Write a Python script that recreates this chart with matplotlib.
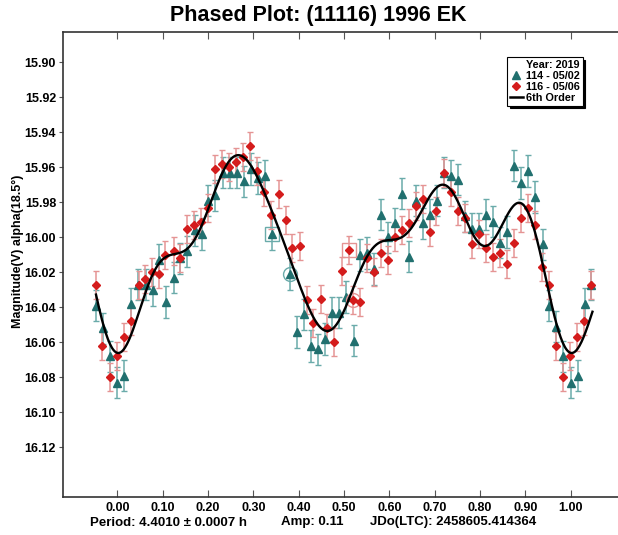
import numpy as np
import matplotlib
matplotlib.use('Agg')
import matplotlib.pyplot as plt
from matplotlib.lines import Line2D

plt.rcParams['font.family'] = ['Liberation Sans', 'DejaVu Sans']
plt.rcParams['font.weight'] = 'bold'

# session 114 - 05/02 (teal triangles)
phase_114 = [-0.047, -0.032, -0.015, 0.000, 0.015, 0.030, 0.046, 0.063, 0.078, 0.092,
             0.107, 0.124, 0.139, 0.154, 0.171, 0.186, 0.201, 0.216, 0.233, 0.248,
             0.263, 0.279, 0.294, 0.310, 0.326, 0.341, 0.380, 0.396, 0.411, 0.427,
             0.442, 0.458, 0.473, 0.488, 0.504, 0.521, 0.535, 0.551, 0.566, 0.582,
             0.597, 0.613, 0.628, 0.644, 0.659, 0.674, 0.690, 0.706, 0.720, 0.735,
             0.751, 0.767, 0.782, 0.798, 0.813, 0.829, 0.845, 0.860, 0.876, 0.891,
             0.906, 0.922, 0.938, 0.953, 0.968, 0.984, 1.000, 1.015, 1.031, 1.045]
mag_114 = [16.039, 16.052, 16.068, 16.083, 16.079, 16.038, 16.027, 16.027, 16.030, 16.013,
           16.037, 16.023, 16.012, 16.008, 15.996, 15.998, 15.979, 15.976, 15.963, 15.963,
           15.963, 15.968, 15.961, 15.966, 15.965, 15.998, 16.021, 16.054, 16.044, 16.062,
           16.064, 16.058, 16.043, 16.043, 16.034, 16.059, 16.010, 16.009, 16.018, 15.987,
           16.000, 15.992, 15.975, 16.011, 15.979, 15.992, 15.987, 15.979, 15.963, 15.965,
           15.967, 15.988, 15.995, 15.995, 15.987, 15.991, 16.003, 15.997, 15.959, 15.969,
           15.962, 15.977, 16.004, 16.039, 16.051, 16.068, 16.083, 16.079, 16.038, 16.027]
err_114 = 0.009

# session 116 - 05/06 (red diamonds)
phase_116 = [-0.047, -0.033, -0.016, 0.000, 0.014, 0.030, 0.047, 0.061, 0.077, 0.092,
             0.106, 0.124, 0.139, 0.153, 0.169, 0.185, 0.200, 0.216, 0.232, 0.247,
             0.262, 0.278, 0.293, 0.309, 0.324, 0.340, 0.356, 0.371, 0.386, 0.402,
             0.418, 0.432, 0.449, 0.463, 0.479, 0.495, 0.510, 0.520, 0.535, 0.551,
             0.566, 0.582, 0.596, 0.612, 0.627, 0.643, 0.658, 0.674, 0.689, 0.704,
             0.721, 0.736, 0.751, 0.766, 0.782, 0.798, 0.813, 0.829, 0.844, 0.860,
             0.875, 0.890, 0.906, 0.921, 0.937, 0.952, 0.968, 0.983, 0.998, 1.014,
             1.029, 1.045]
mag_116 = [16.027, 16.062, 16.080, 16.068, 16.057, 16.048, 16.027, 16.024, 16.020, 16.021,
           16.010, 16.008, 16.012, 15.995, 15.993, 15.991, 15.983, 15.961, 15.958, 15.960,
           15.957, 15.954, 15.948, 15.962, 15.974, 15.987, 15.975, 15.990, 16.006, 16.005,
           16.036, 16.049, 16.035, 16.052, 16.060, 16.019, 16.007, 16.036, 16.037, 16.012,
           16.020, 16.009, 16.013, 16.000, 15.996, 15.992, 15.982, 15.978, 15.997, 15.985,
           15.963, 15.974, 15.985, 15.989, 16.004, 15.998, 16.006, 16.011, 16.009, 16.015,
           16.003, 15.989, 15.983, 15.993, 16.017, 16.027, 16.062, 16.080, 16.068, 16.057,
           16.048, 16.027]
err_116 = 0.008

# flagged points (boxed / circled in the original)
boxed_114 = [0.341]
circled_114 = [0.380]
boxed_116 = [0.510]
circled_116 = [0.520]

fit_order = 6

teal = '#21706f'
teal_err = '#6aabaa'
red = '#d41c1c'
red_err = '#e59494'

# 6th order Fourier fit on the unique phases [0, 1)
p_all = np.array(phase_114 + phase_116)
m_all = np.array(mag_114 + mag_116)
keep = (p_all >= 0) & (p_all < 1)
p_fit, m_fit = p_all[keep], m_all[keep]


def design(p):
    cols = [np.ones_like(p)]
    for k in range(1, fit_order + 1):
        cols.append(np.cos(2 * np.pi * k * p))
        cols.append(np.sin(2 * np.pi * k * p))
    return np.column_stack(cols)


coef, *_ = np.linalg.lstsq(design(p_fit), m_fit, rcond=None)
p_curve = np.linspace(-0.047, 1.048, 500)
m_curve = design(p_curve) @ coef

fig = plt.figure(figsize=(6.18, 5.35), dpi=100)
ax = fig.add_axes([63 / 618, 1 - 496.7 / 535, 1 - 63 / 618, (496.7 - 32.3) / 535])

ax.errorbar(phase_114, mag_114, yerr=err_114, fmt='none', ecolor=teal_err,
            elinewidth=1.1, capsize=2.5, capthick=1, zorder=2)
ax.errorbar(phase_116, mag_116, yerr=err_116, fmt='none', ecolor=red_err,
            elinewidth=1.1, capsize=2.5, capthick=1, zorder=2)
ax.plot(phase_114, mag_114, '^', color=teal, ms=6, mec=teal, zorder=3)
ax.plot(phase_116, mag_116, 'D', color=red, ms=4, mec=red, zorder=4)

for ph in boxed_114:
    ax.plot(ph, mag_114[phase_114.index(ph)], 's', ms=10, mfc='none', mec=teal_err, mew=1, zorder=3)
for ph in circled_114:
    ax.plot(ph, mag_114[phase_114.index(ph)], 'o', ms=10, mfc='none', mec=teal_err, mew=1, zorder=3)
for ph in boxed_116:
    ax.plot(ph, mag_116[phase_116.index(ph)], 's', ms=10, mfc='none', mec=red_err, mew=1, zorder=3)
for ph in circled_116:
    ax.plot(ph, mag_116[phase_116.index(ph)], 'o', ms=10, mfc='none', mec=red_err, mew=1, zorder=3)

ax.plot(p_curve, m_curve, color='black', lw=1.7, zorder=5)

x0 = -(117.3 - 63) / 453.4
x1 = (618 - 117.3) / 453.4
ax.set_xlim(x0, x1)
ax.set_ylim(15.90 + (496.7 - 62.3) / 1750, 15.90 - (62.3 - 32.3) / 1750)

xt = np.round(np.arange(0, 1.001, 0.1), 2)
ax.set_xticks(xt)
ax.set_xticklabels([f'{v:.2f}' for v in xt])
yt = np.round(np.arange(15.90, 16.121, 0.02), 2)
ax.set_yticks(yt)
ax.set_yticklabels([f'{v:.2f}' for v in yt])

ax.tick_params(axis='x', direction='in', length=5, top=True, pad=4, labelsize=9, color='#555555')
ax.tick_params(axis='y', direction='out', length=3, pad=2, labelsize=9, color='#555555')
ax.spines['right'].set_visible(False)
for s in ['left', 'top', 'bottom']:
    ax.spines[s].set_color('#333333')
    ax.spines[s].set_linewidth(1.2)

fig.text(318.5 / 618, 1 - 15 / 535, 'Phased Plot: (11116) 1996 EK', ha='center', va='center',
         fontsize=15.5, fontweight='heavy')
fig.text(18 / 618, 1 - 251.5 / 535, 'Magnitude(V) alpha(18.5°)', rotation=90,
         ha='center', va='center', fontsize=9)
fy = 1 - 522.5 / 535
fig.text(90 / 618, fy, 'Period: 4.4010 ± 0.0007 h', ha='left', va='center', fontsize=9.5)
fig.text(280.6 / 618, fy, 'Amp: 0.11', ha='left', va='center', fontsize=9.5)
fig.text(369.7 / 618, fy, 'JDo(LTC): 2458605.414364', ha='left', va='center', fontsize=9.5)

handles = [Line2D([], [], ls='none', marker='^', color=teal, ms=5.5),
           Line2D([], [], ls='none', marker='D', color=red, ms=3.8),
           Line2D([], [], color='black', lw=1.8)]
leg = ax.legend(handles, ['114 - 05/02', '116 - 05/06', '6th Order'], title='Year: 2019',
                loc='upper left', bbox_to_anchor=((507 - 63) / 555, 1 - (57 - 32.3) / 464.4),
                bbox_transform=ax.transAxes, fontsize=7.8, title_fontsize=7.8, frameon=True,
                fancybox=False, edgecolor='black', framealpha=1, borderpad=0.25,
                handlelength=1.2, handletextpad=0.3, labelspacing=0.1, borderaxespad=0,
                alignment='right', shadow={'color': 'black', 'alpha': 1, 'shade': 0})
leg.get_title().set_fontweight('bold')
leg.get_frame().set_linewidth(0.8)
leg.set_zorder(10)

fig.savefig('out.png', dpi=100)
